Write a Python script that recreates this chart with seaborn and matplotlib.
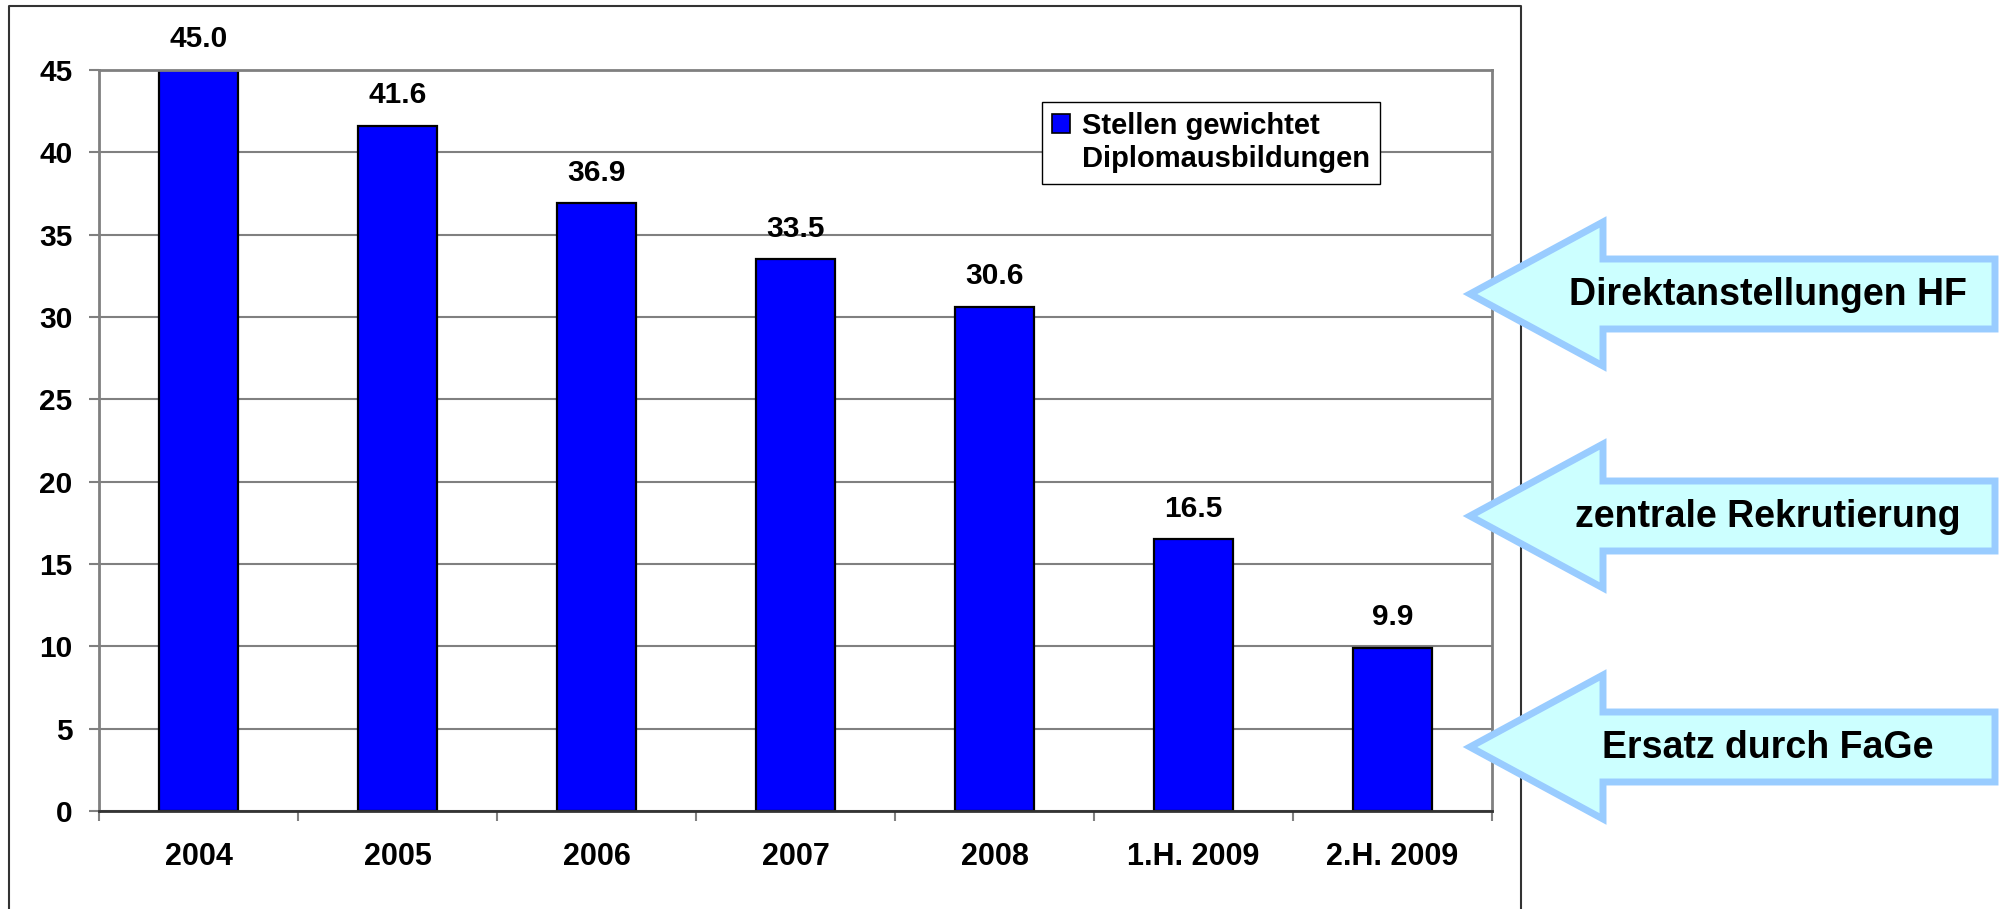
import numpy as np
import pandas as pd
import seaborn as sns
import matplotlib
matplotlib.use("Agg")
import matplotlib.pyplot as plt
from matplotlib.patches import Polygon, Patch
from matplotlib.lines import Line2D

# ---- data ----
categories = ['2004', '2005', '2006', '2007', '2008', '1.H. 2009', '2.H. 2009']
values = [45.0, 41.6, 36.9, 33.5, 30.6, 16.5, 9.9]
legend_lines = ['Stellen gewichtet', 'Diplomausbildungen']
arrow_labels = ['Direktanstellungen HF', 'zentrale Rekrutierung', 'Ersatz durch FaGe']
y_ticks = [0, 5, 10, 15, 20, 25, 30, 35, 40, 45]

sns.set_style('white')
plt.rcParams['font.family'] = ['Liberation Sans', 'DejaVu Sans']
plt.rcParams['font.weight'] = 'bold'
plt.rcParams['text.color'] = 'black'
plt.rcParams['xtick.labelcolor'] = 'black'
plt.rcParams['ytick.labelcolor'] = 'black'
plt.rcParams['axes.labelcolor'] = 'black'

W, H = 2007, 909
fig = plt.figure(figsize=(W / 100, H / 100), dpi=100)
fig.patch.set_facecolor('white')


def fx(x):
    return x / W


def fy(y):
    return 1 - y / H


# axes placement (pixels): left 99, right 1492, top 70, bottom 811
ax = fig.add_axes([fx(99), fy(811), (1492 - 99) / W, (811 - 70) / H])

df = pd.DataFrame({'cat': categories, 'val': values})
sns.barplot(data=df, x='cat', y='val', order=categories, color='#0000FF',
            saturation=1, width=0.4, edgecolor='black', linewidth=1.6, ax=ax)

ax.set_xlim(-0.5, len(categories) - 0.5)
ax.set_ylim(0, 45)
ax.set_yticks(y_ticks)
ax.set_xlabel('')
ax.set_ylabel('')
ax.set_axisbelow(True)
ax.yaxis.grid(True, color='#808080', lw=1.5)
ax.xaxis.grid(False)

for side in ['left', 'top', 'right']:
    ax.spines[side].set_color('#808080')
    ax.spines[side].set_linewidth(2)
    ax.spines[side].set_visible(True)
ax.spines['bottom'].set_color('#333333')
ax.spines['bottom'].set_linewidth(2)

ax.tick_params(axis='y', which='major', length=7.2, width=1.5, color='#808080',
               direction='out', left=True, pad=12, labelsize=21.5, labelcolor='black')
ax.tick_params(axis='x', which='major', length=0, pad=22, labelsize=22,
               labelcolor='black')
ax.set_xticks(np.arange(-0.5, len(categories), 1), minor=True)
ax.tick_params(axis='x', which='minor', length=7.2, width=1.5, color='#808080',
               direction='out', bottom=True)
for lab in ax.get_xticklabels() + ax.get_yticklabels():
    lab.set_fontweight('bold')
    lab.set_color('black')

ax.bar_label(ax.containers[0], fmt='%.1f', padding=12, fontsize=21.5,
             fontweight='bold', color='black')

# legend
handles = [Patch(facecolor='#0000FF', edgecolor='black', linewidth=1.2),
           Patch(facecolor='none', edgecolor='none')]
leg = fig.legend(handles, legend_lines, loc='upper left',
                 bbox_to_anchor=(fx(1042), fy(102)), bbox_transform=fig.transFigure,
                 frameon=True, fancybox=False, shadow=False, framealpha=1,
                 edgecolor='black', prop={'size': 21, 'weight': 'bold'},
                 handlelength=0.62, handleheight=0.62, handletextpad=0.4,
                 borderpad=0.35, labelspacing=0.18, borderaxespad=0,
                 labelcolor='black')
leg.get_frame().set_linewidth(1.0)

# outer frame
frame = Line2D([fx(9), fx(9), fx(1521), fx(1521)], [fy(915), fy(6), fy(6), fy(915)],
               transform=fig.transFigure, color='#333333', lw=1.5)
fig.add_artist(frame)

# arrows (decorations)
arrow_centers = [294, 516, 747]
for label, cy in zip(arrow_labels, arrow_centers):
    tip_x, back_x, right_x = 1470, 1603, 1995
    hh, sh = 72, 35
    pts_px = [(tip_x, cy), (back_x, cy - hh), (back_x, cy - sh), (right_x, cy - sh),
              (right_x, cy + sh), (back_x, cy + sh), (back_x, cy + hh)]
    pts = [(fx(x), fy(y)) for x, y in pts_px]
    poly = Polygon(pts, closed=True, transform=fig.transFigure,
                   facecolor='#CCFFFF', edgecolor='#99CCFF', lw=5,
                   joinstyle='miter', zorder=5)
    fig.add_artist(poly)
    fig.text(fx(1768), fy(cy + 1), label, ha='center', va='center',
             fontsize=27, fontweight='bold', color='black', zorder=6)

fig.savefig('out.png', dpi=100, facecolor='white')
